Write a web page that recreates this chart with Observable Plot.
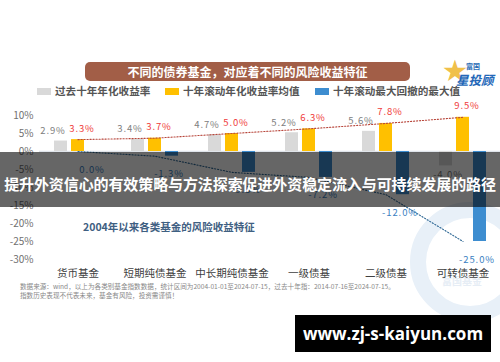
<!DOCTYPE html>
<html>
<head>
<meta charset="utf-8">
<script src="https://cdn.jsdelivr.net/npm/d3@7"></script>
<script src="https://cdn.jsdelivr.net/npm/@observablehq/plot@0.6"></script>
<style>
  html, body { margin: 0; padding: 0; background: #fff; }
  #wrap { position: relative; width: 500px; height: 362px; overflow: hidden; background: #fff;
          font-family: "Noto Sans CJK SC", "Noto Sans", sans-serif; }
  #chart { position: absolute; left: 0; top: 0; z-index: 1; }
  #chart svg { overflow: visible; }
  .abs { position: absolute; white-space: nowrap; }
  #title { left: 85px; top: 62px; width: 325px; height: 19px; background: #a25e47; border-radius: 5px;
           color: #fff; font-weight: bold; font-size: 12px; line-height: 19px; text-align: center; z-index: 2; }
  .leg { top: 84px; height: 14px; font-size: 10.6px; font-weight: bold; color: #555; line-height: 14px; z-index: 2; }
  .sw { display: inline-block; width: 14px; height: 7px; vertical-align: 0px; margin-right: 4px; }
  #sub { left: 83px; top: 219px; font-size: 10.5px; font-weight: bold; color: #3f6082; z-index: 2; }
  .foot { left: 20px; font-size: 6.6px; color: #888; z-index: 2; line-height: 8px; }
  #banner { left: 0; top: 152px; width: 500px; height: 55px; background: rgba(0,0,0,0.6); z-index: 5;
            color: #fff; font-weight: bold; font-size: 15px; text-align: center; line-height: 15px;
            box-sizing: border-box; padding-top: 24px; letter-spacing: -0.1px; }
  #blackbox { left: 295px; top: 315px; width: 196px; height: 37px; background: #000; z-index: 5;
              color: #fff; font-weight: bold; font-size: 17px; font-family: "Open Sans", sans-serif;
              text-align: center; line-height: 37px; }
  #logo1 { left: 443px; top: 57px; font-size: 24px; color: #f0c04a; z-index: 2; line-height: 24px; }
  #logo2 { left: 466px; top: 61px; font-size: 7px; color: #2b6cb5; font-weight: bold; z-index: 3; }
  #logo3 { left: 456px; top: 70px; font-size: 12.5px; color: #2367b8; font-weight: bold; font-style: italic; z-index: 3; }
  #wm { position: absolute; left: 0; top: 0; z-index: 0; }
  #chart g[aria-label="text"] text { letter-spacing: 0.9px; }
</style>
</head>
<body>
<div id="wrap">
  <svg id="wm" width="500" height="362">
    <circle cx="470" cy="262" r="52" fill="none" stroke="#e8f0f8" stroke-width="16"></circle>
    <text x="462" y="285" font-size="10" fill="#e6edf5" text-anchor="middle" font-weight="bold">富国基金</text>
  </svg>
  <div id="chart"></div>
  <div id="title" class="abs">不同的债券基金，对应着不同的风险收益特征</div>
  <div id="logo1" class="abs">★</div>
  <div id="logo2" class="abs">富国</div>
  <div id="logo3" class="abs">星投顾</div>
  <div id="leg1" class="abs leg" style="left:37px"><span class="sw" style="background:#d9d9d9"></span>过去十年年化收益率</div>
  <div id="leg2" class="abs leg" style="left:165px"><span class="sw" style="background:#ffc000"></span>十年滚动年化收益率均值</div>
  <div id="leg3" class="abs leg" style="left:315px"><span class="sw" style="background:#3d8dd0"></span>十年滚动最大回撤的最大值</div>
  <div id="sub" class="abs">2004年以来各类基金的风险收益特征</div>
  <div class="abs foot" style="top:282px">数据来源：wind，以上为各类别基金指数数据，统计区间为2004-01-01至2024-07-15，过去十年指：2014-07-16至2024-07-15。</div>
  <div class="abs foot" style="top:291px">指数历史表现不代表未来，基金有风险，投资需谨慎！</div>
  <div id="banner" class="abs">提升外资信心的有效策略与方法探索促进外资稳定流入与可持续发展的路径</div>
  <div id="blackbox" class="abs">www.zj-s-kaiyun.com</div>
</div>
<script>
const categories = ["货币基金", "短期纯债基金", "中长期纯债基金", "一级债基", "二级债基", "可转债基金"];
const pastTenYear = [2.9, 3.4, 4.7, 5.2, 5.6, -4.0];
const rollingMean = [3.3, 3.7, 5.0, 6.3, 7.8, 9.5];
const maxDrawdown = [0.0, -1.3, -5.8, -7.2, -12.0, -25.0];
const yTicks = [10, 5, 0, -5, -10, -15, -20, -25, -30];

const rows = categories.map((c, i) => ({cat: c, past: pastTenYear[i], mean: rollingMean[i], dd: maxDrawdown[i]}));
const fmt = v => v.toFixed(1) + "%";

const chart = Plot.plot({
  width: 500,
  height: 362,
  marginTop: 115,
  marginBottom: 103,
  marginLeft: 39,
  marginRight: 0,
  style: {background: "transparent", fontFamily: "'Noto Sans CJK SC', 'Noto Sans', sans-serif"},
  x: {type: "band", domain: categories, range: [39, 501], padding: 0, axis: null},
  y: {domain: [-30, 10], axis: null},
  marks: [
    Plot.axisY(yTicks, {tickSize: 0, tickPadding: 6, tickFormat: d => d + "%", fontSize: 10, fill: "#707070", label: null}),
    Plot.axisX({tickSize: 0, tickPadding: 10, fontSize: 10.5, fill: "#404040", label: null}),
    Plot.ruleY([0], {stroke: "#dfe4ea", strokeWidth: 1.5}),
    Plot.barY(rows, {x: "cat", y: "past", fill: "#d9d9d9", insetLeft: 15, insetRight: 49}),
    Plot.barY(rows, {x: "cat", y: "mean", fill: "#ffc000", insetLeft: 32, insetRight: 32}),
    Plot.barY(rows, {x: "cat", y: "dd", fill: "#3d8dd0", insetLeft: 49, insetRight: 15}),
    Plot.line(rows, {x: "cat", y: "mean", stroke: "#b8473c", strokeWidth: 1.1, strokeDasharray: "1.2,1.8"}),
    Plot.line(rows, {x: "cat", y: "dd", stroke: "#2d6794", strokeWidth: 1.1, strokeDasharray: "1.2,1.8"}),
    Plot.text(rows.filter(d => d.past >= 0), {x: "cat", y: "past", text: d => fmt(d.past), dx: -25, dy: -10, fill: "#808080", fontSize: 9.5}),
    Plot.text(rows.filter(d => d.past < 0), {x: "cat", y: "past", text: d => fmt(d.past), dx: -15, dy: 9, fill: "#808080", fontSize: 9.5}),
    Plot.text(rows, {x: "cat", y: "mean", text: d => fmt(d.mean), dx: 4, dy: -11, fill: "#ef3b3b", fontSize: 9.5}),
    Plot.text(rows, {x: "cat", y: "dd", text: d => fmt(d.dd), dx: 14, dy: 18, fill: "#3a80c2", fontSize: 9.5})
  ]
});
document.getElementById("chart").appendChild(chart);
</script>
</body>
</html>
